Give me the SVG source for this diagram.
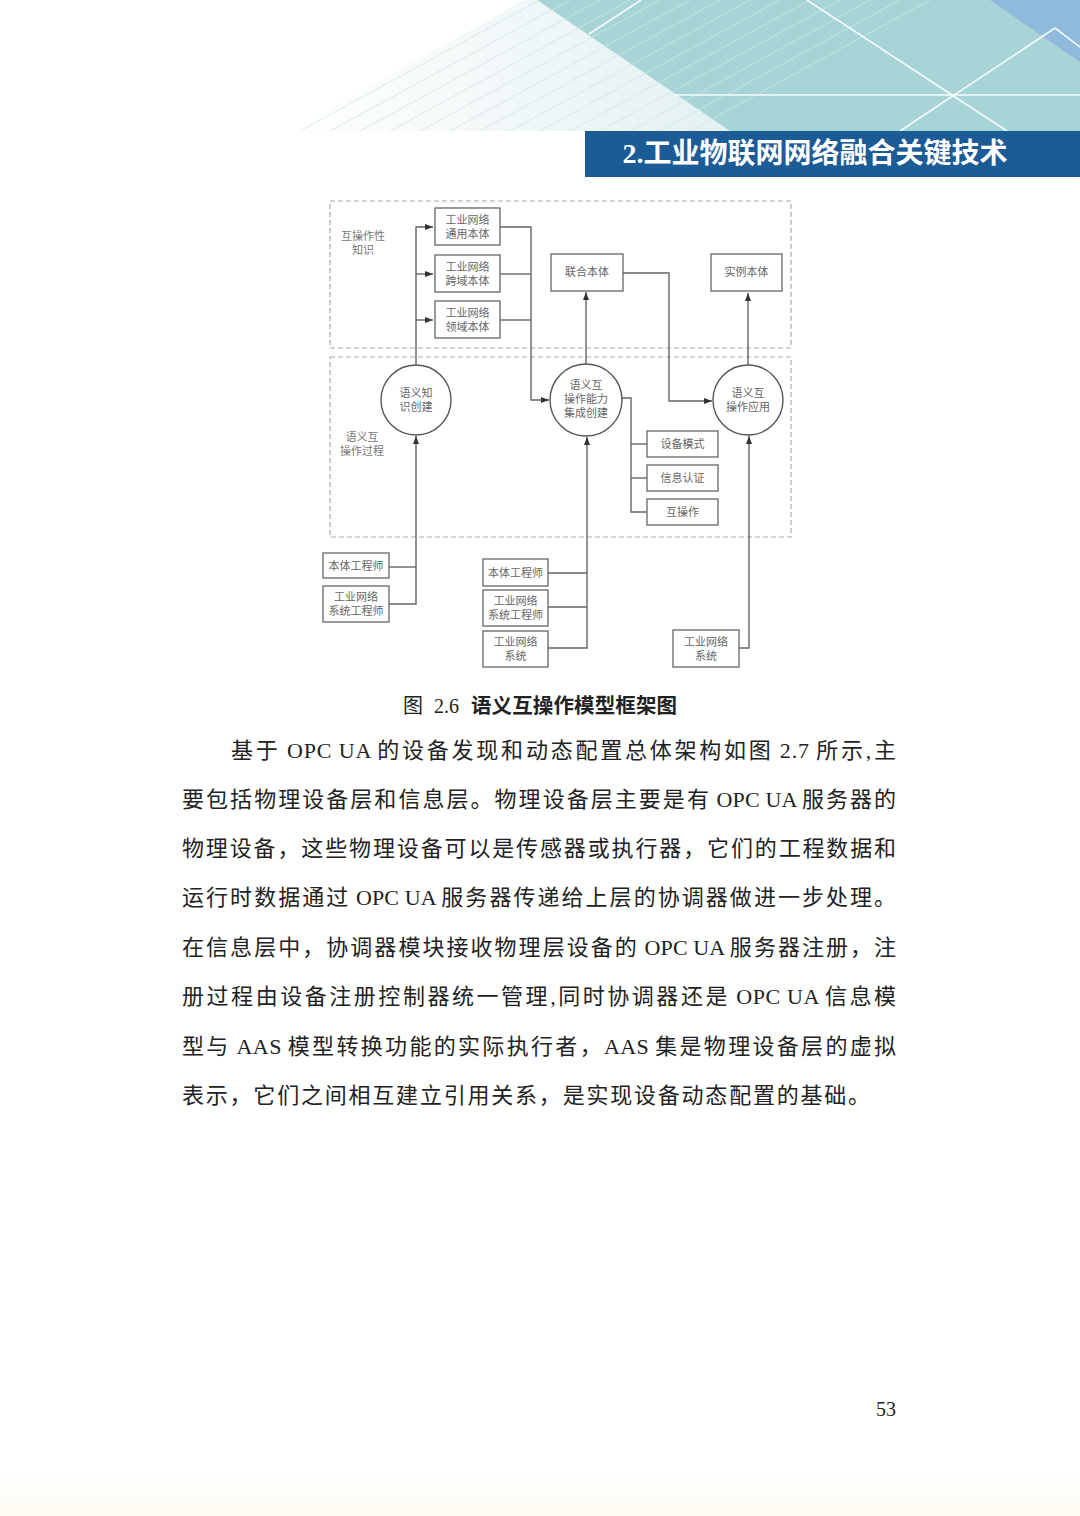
<svg xmlns="http://www.w3.org/2000/svg" width="1080" height="1516" viewBox="0 0 1080 1516">
<defs>
<style>
.box{fill:#fff;stroke:#666;stroke-width:1.3}
.cir{fill:#fff;stroke:#555;stroke-width:1.4}
.dash{fill:none;stroke:#aaa;stroke-width:1.2;stroke-dasharray:5 3}
.ln{fill:none;stroke:#666;stroke-width:1.4}
.t{font-family:"Noto Sans CJK SC",sans-serif;font-size:11px;fill:#666;text-anchor:middle}
.lbl{font-family:"Noto Sans CJK SC",sans-serif;font-size:11px;fill:#777;text-anchor:middle}
.body{font-family:"Liberation Serif","Noto Sans CJK SC",serif;font-size:22px;fill:#222}
.c{letter-spacing:1.9px}
.wl{stroke:#fff;stroke-width:1.6;fill:none;opacity:0.9}
</style>
<marker id="ar" markerUnits="userSpaceOnUse" markerWidth="8" markerHeight="6" refX="8" refY="3" orient="auto">
<path d="M0,0 L8,3 L0,6 z" fill="#333"/>
</marker>
<linearGradient id="fade" x1="0" y1="0" x2="1" y2="0">
<stop offset="0" stop-color="#ffffff"/>
<stop offset="1" stop-color="#e3f0f1"/>
</linearGradient>
<linearGradient id="btm" x1="0" y1="0" x2="0" y2="1">
<stop offset="0" stop-color="#ffffff"/>
<stop offset="1" stop-color="#fdfbf1"/>
</linearGradient>
<clipPath id="hclip"><polygon points="290,131 525,0 1080,0 1080,131"/></clipPath>
</defs>
<rect width="1080" height="1516" fill="#fff"/>
<rect x="0" y="1470" width="1080" height="46" fill="url(#btm)"/>

<g id="header">
<polygon points="290,131 525,0 540,0 732,131" fill="url(#fade)"/>
<polygon points="537,0 1080,0 1080,131 730,131" fill="#a7d4d6"/>
<polygon points="990,0 1080,0 1080,62 1045,38" fill="#8fbadc"/>
<g clip-path="url(#hclip)" stroke="#d2e4e5" stroke-width="0.8">
<line x1="300" y1="131" x2="540" y2="0"/>
<line x1="330" y1="131" x2="570" y2="0"/>
<line x1="360" y1="131" x2="600" y2="0"/>
<line x1="390" y1="131" x2="630" y2="0"/>
<line x1="420" y1="131" x2="660" y2="0"/>
<line x1="450" y1="131" x2="690" y2="0"/>
<line x1="480" y1="131" x2="720" y2="0"/>
<line x1="510" y1="131" x2="750" y2="0"/>
<line x1="540" y1="131" x2="780" y2="0"/>
<line x1="570" y1="131" x2="810" y2="0"/>
<line x1="600" y1="131" x2="840" y2="0"/>
<line x1="630" y1="131" x2="870" y2="0"/>
<line x1="660" y1="131" x2="900" y2="0"/>
<line x1="690" y1="131" x2="930" y2="0"/>
</g>
<line class="wl" x1="807" y1="0" x2="1007" y2="131"/>
<line class="wl" x1="1055" y1="28" x2="900" y2="131"/>
<line class="wl" x1="1055" y1="28" x2="1080" y2="47"/>
<line class="wl" x1="674" y1="95" x2="1080" y2="95"/>
<line class="wl" x1="641" y1="0" x2="589" y2="34"/>
<rect x="585" y="131" width="495" height="46" fill="#1b5b96"/>
<text x="815" y="163" font-family="Liberation Serif,Noto Sans CJK SC,serif" font-size="28" font-weight="bold" fill="#fff" text-anchor="middle">2.工业物联网网络融合关键技术</text>
</g>

<g id="regions">
<rect class="dash" x="330" y="201" width="461" height="147"/>
<rect class="dash" x="330" y="357" width="461" height="180"/>
<text class="lbl" x="363" y="240">互操作性</text>
<text class="lbl" x="363" y="254">知识</text>
<text class="lbl" x="362" y="441">语义互</text>
<text class="lbl" x="362" y="455">操作过程</text>
</g>

<g id="connectors">
<path class="ln" d="M416,365 V227 H433" marker-end="url(#ar)"/>
<path class="ln" d="M416,274 H433" marker-end="url(#ar)"/>
<path class="ln" d="M416,320 H433" marker-end="url(#ar)"/>
<path class="ln" d="M500,227 H531 V400 H549" marker-end="url(#ar)"/>
<path class="ln" d="M500,274 H531"/>
<path class="ln" d="M500,320 H531"/>
<path class="ln" d="M389,567 H416"/>
<path class="ln" d="M389,604 H416 V436" marker-end="url(#ar)"/>
<path class="ln" d="M586,364 V292" marker-end="url(#ar)"/>
<path class="ln" d="M623,273 H669 V401 H712" marker-end="url(#ar)"/>
<path class="ln" d="M748,365 V293" marker-end="url(#ar)"/>
<path class="ln" d="M622,398 H631 V512 H647"/>
<path class="ln" d="M631,444 H647"/>
<path class="ln" d="M631,478 H647"/>
<path class="ln" d="M548,573 H587"/>
<path class="ln" d="M548,607 H587"/>
<path class="ln" d="M548,648 H587 V437" marker-end="url(#ar)"/>
<path class="ln" d="M739,648 H749 V436" marker-end="url(#ar)"/>
</g>

<g id="n-tongyong"><rect class="box" x="435" y="208" width="65" height="37"/><text class="t" x="467.5" y="224">工业网络</text><text class="t" x="467.5" y="238">通用本体</text></g>
<g id="n-kuayu"><rect class="box" x="435" y="255" width="65" height="37"/><text class="t" x="467.5" y="271">工业网络</text><text class="t" x="467.5" y="285">跨域本体</text></g>
<g id="n-lingyu"><rect class="box" x="435" y="301" width="65" height="37"/><text class="t" x="467.5" y="317">工业网络</text><text class="t" x="467.5" y="331">领域本体</text></g>
<g id="n-lianhe"><rect class="box" x="551" y="254" width="72" height="37"/><text class="t" x="587" y="276">联合本体</text></g>
<g id="n-shili"><rect class="box" x="711" y="254" width="71" height="37"/><text class="t" x="746.5" y="276">实例本体</text></g>

<g id="n-c1"><circle class="cir" cx="416" cy="400" r="35"/><text class="t" x="416" y="397">语义知</text><text class="t" x="416" y="411">识创建</text></g>
<g id="n-c2"><circle class="cir" cx="586" cy="400" r="36"/><text class="t" x="586" y="389">语义互</text><text class="t" x="586" y="403">操作能力</text><text class="t" x="586" y="417">集成创建</text></g>
<g id="n-c3"><circle class="cir" cx="748" cy="400" r="35"/><text class="t" x="748" y="397">语义互</text><text class="t" x="748" y="411">操作应用</text></g>

<g id="n-shebei"><rect class="box" x="647" y="431" width="71" height="26"/><text class="t" x="682.5" y="448">设备模式</text></g>
<g id="n-xinxi"><rect class="box" x="647" y="465" width="71" height="26"/><text class="t" x="682.5" y="482">信息认证</text></g>
<g id="n-hucaozuo"><rect class="box" x="647" y="499" width="71" height="26"/><text class="t" x="682.5" y="516">互操作</text></g>

<g id="n-bl1"><rect class="box" x="323" y="553" width="66" height="25"/><text class="t" x="356" y="570">本体工程师</text></g>
<g id="n-bl2"><rect class="box" x="323" y="586" width="66" height="36"/><text class="t" x="356" y="601">工业网络</text><text class="t" x="356" y="615">系统工程师</text></g>
<g id="n-bc1"><rect class="box" x="483" y="559" width="65" height="27"/><text class="t" x="515.5" y="577">本体工程师</text></g>
<g id="n-bc2"><rect class="box" x="483" y="590" width="65" height="36"/><text class="t" x="515.5" y="605">工业网络</text><text class="t" x="515.5" y="619">系统工程师</text></g>
<g id="n-bc3"><rect class="box" x="483" y="631" width="65" height="36"/><text class="t" x="515.5" y="646">工业网络</text><text class="t" x="515.5" y="660">系统</text></g>
<g id="n-br"><rect class="box" x="673" y="630" width="66" height="37"/><text class="t" x="706" y="646">工业网络</text><text class="t" x="706" y="660">系统</text></g>

<g id="caption">
<text x="403" y="713" font-family="Liberation Serif,Noto Sans CJK SC,serif" font-size="20" fill="#222">图</text>
<text x="434" y="713" font-family="Liberation Serif,serif" font-size="20" fill="#222">2.6</text>
<text x="471" y="713" font-family="Noto Sans CJK SC,sans-serif" font-size="20.5" font-weight="bold" fill="#222" textLength="206" lengthAdjust="spacing">语义互操作模型框架图</text>
</g>

<g id="bodytext" class="body">
<text x="231" y="758" textLength="667" lengthAdjust="spacing"><tspan class="c">基于</tspan> OPC UA <tspan class="c">的设备发现和动态配置总体架构如图</tspan> 2.7 <tspan class="c">所示,主</tspan></text>
<text x="182" y="807" textLength="716" lengthAdjust="spacing"><tspan class="c">要包括物理设备层和信息层。物理设备层主要是有</tspan> OPC UA <tspan class="c">服务器的</tspan></text>
<text x="182" y="856" textLength="716" lengthAdjust="spacing"><tspan class="c">物理设备，这些物理设备可以是传感器或执行器，它们的工程数据和</tspan></text>
<text x="182" y="905" textLength="716" lengthAdjust="spacing"><tspan class="c">运行时数据通过</tspan> OPC UA <tspan class="c">服务器传递给上层的协调器做进一步处理。</tspan></text>
<text x="182" y="955" textLength="716" lengthAdjust="spacing"><tspan class="c">在信息层中，协调器模块接收物理层设备的</tspan> OPC UA <tspan class="c">服务器注册，注</tspan></text>
<text x="182" y="1004" textLength="716" lengthAdjust="spacing"><tspan class="c">册过程由设备注册控制器统一管理,同时协调器还是</tspan> OPC UA <tspan class="c">信息模</tspan></text>
<text x="182" y="1054" textLength="716" lengthAdjust="spacing"><tspan class="c">型与</tspan> AAS <tspan class="c">模型转换功能的实际执行者，</tspan>AAS <tspan class="c">集是物理设备层的虚拟</tspan></text>
<text x="182" y="1103" textLength="690" lengthAdjust="spacing"><tspan class="c">表示，它们之间相互建立引用关系，是实现设备动态配置的基础。</tspan></text>
</g>

<text id="pagenum" x="886" y="1416" font-family="Liberation Serif,serif" font-size="20" fill="#222" text-anchor="middle">53</text>
</svg>
